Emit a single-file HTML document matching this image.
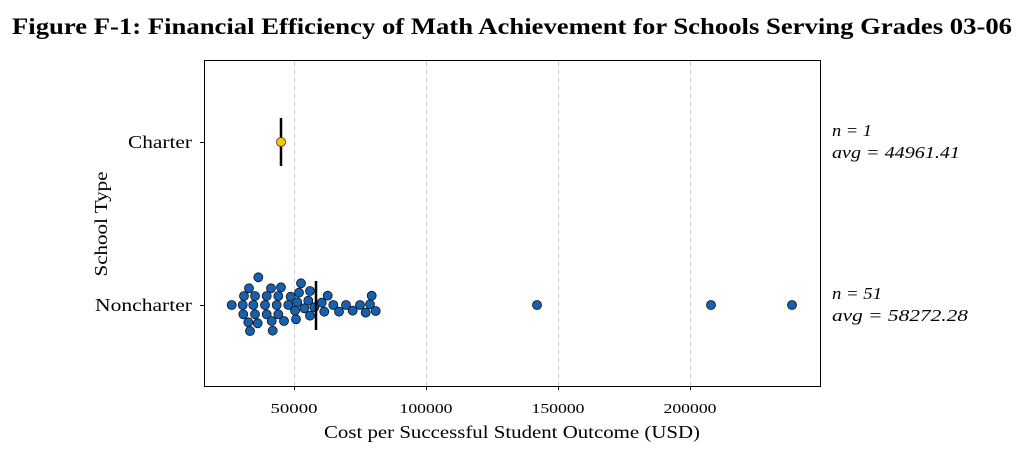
<!DOCTYPE html>
<html><head><style>body{margin:0;background:#fff}svg{display:block}</style></head>
<body>
<svg width="1024" height="451" xmlns="http://www.w3.org/2000/svg" font-family="Liberation Serif, serif">
<text x="512" y="34" text-anchor="middle" font-size="23" font-weight="bold" textLength="1000" lengthAdjust="spacingAndGlyphs">Figure F-1: Financial Efficiency of Math Achievement for Schools Serving Grades 03-06</text>
<g stroke="#d0d0d0" stroke-dasharray="5,3" stroke-width="1">
<line x1="294.5" y1="61" x2="294.5" y2="386"/><line x1="426.5" y1="61" x2="426.5" y2="386"/>
<line x1="558.5" y1="61" x2="558.5" y2="386"/><line x1="690.5" y1="61" x2="690.5" y2="386"/>
</g>
<rect x="204.5" y="60.5" width="616" height="326" fill="none" stroke="#000" stroke-width="1"/>
<g stroke="#000"><line x1="294.5" y1="386" x2="294.5" y2="390"/><line x1="426.5" y1="386" x2="426.5" y2="390"/><line x1="558.5" y1="386" x2="558.5" y2="390"/><line x1="690.5" y1="386" x2="690.5" y2="390"/>
<line x1="200" y1="142.5" x2="204" y2="142.5"/><line x1="200" y1="305.5" x2="204" y2="305.5"/></g>
<g font-size="14" text-anchor="middle"><text x="294" y="413" textLength="47" lengthAdjust="spacingAndGlyphs">50000</text><text x="426" y="413" textLength="53" lengthAdjust="spacingAndGlyphs">100000</text><text x="558" y="413" textLength="53" lengthAdjust="spacingAndGlyphs">150000</text><text x="690" y="413" textLength="53" lengthAdjust="spacingAndGlyphs">200000</text></g>
<text x="512" y="438" text-anchor="middle" font-size="18" textLength="376" lengthAdjust="spacingAndGlyphs">Cost per Successful Student Outcome (USD)</text>
<g font-size="18" text-anchor="end"><text x="192" y="148" textLength="64" lengthAdjust="spacingAndGlyphs">Charter</text><text x="192" y="311" textLength="97" lengthAdjust="spacingAndGlyphs">Noncharter</text></g>
<text transform="translate(107,224) rotate(-90)" text-anchor="middle" font-size="18" textLength="105" lengthAdjust="spacingAndGlyphs">School Type</text>
<g font-size="17" font-style="italic"><text x="832" y="136" textLength="40" lengthAdjust="spacingAndGlyphs">n = 1</text><text x="832" y="158" textLength="128" lengthAdjust="spacingAndGlyphs">avg = 44961.41</text>
<text x="832" y="299" textLength="50" lengthAdjust="spacingAndGlyphs">n = 51</text><text x="832" y="321" textLength="136" lengthAdjust="spacingAndGlyphs">avg = 58272.28</text></g>
<line x1="281" y1="118" x2="281" y2="166" stroke="#000" stroke-width="2.5"/>
<circle cx="281" cy="142" r="4.5" fill="#ffc400" stroke="#333" stroke-width="0.8"/>
<g fill="#1560b0" stroke="#111" stroke-width="0.8">
<circle cx="258.3" cy="277.3" r="4.5"/><circle cx="301" cy="283.3" r="4.5"/><circle cx="249" cy="288.3" r="4.5"/><circle cx="271" cy="288.3" r="4.5"/><circle cx="281" cy="287.3" r="4.5"/><circle cx="310" cy="291" r="4.5"/>
<circle cx="244" cy="296" r="4.5"/><circle cx="255" cy="296" r="4.5"/><circle cx="266.7" cy="296" r="4.5"/><circle cx="278.3" cy="296" r="4.5"/><circle cx="290.7" cy="296.7" r="4.5"/><circle cx="299" cy="292.7" r="4.5"/><circle cx="327.7" cy="295.7" r="4.5"/><circle cx="371.7" cy="295.7" r="4.5"/>
<circle cx="231.7" cy="305" r="4.5"/><circle cx="242.7" cy="305" r="4.5"/><circle cx="253.3" cy="305" r="4.5"/><circle cx="265" cy="305" r="4.5"/><circle cx="276.7" cy="305" r="4.5"/><circle cx="288.3" cy="305" r="4.5"/><circle cx="297.3" cy="302.3" r="4.5"/><circle cx="308.3" cy="300.7" r="4.5"/><circle cx="321.7" cy="302.7" r="4.5"/><circle cx="314.3" cy="307.3" r="4.5"/><circle cx="333.3" cy="305" r="4.5"/><circle cx="346" cy="305" r="4.5"/><circle cx="360" cy="305" r="4.5"/><circle cx="370" cy="304.3" r="4.5"/>
<circle cx="304.3" cy="308.3" r="4.5"/><circle cx="295" cy="310.7" r="4.5"/><circle cx="324.3" cy="311.7" r="4.5"/><circle cx="339" cy="311.7" r="4.5"/><circle cx="352.7" cy="310.7" r="4.5"/><circle cx="365.7" cy="312.7" r="4.5"/><circle cx="375.7" cy="311" r="4.5"/>
<circle cx="243.3" cy="314.3" r="4.5"/><circle cx="255" cy="314.3" r="4.5"/><circle cx="266.7" cy="314.3" r="4.5"/><circle cx="278.3" cy="314.3" r="4.5"/><circle cx="310" cy="315.7" r="4.5"/>
<circle cx="248.3" cy="322.3" r="4.5"/><circle cx="257.7" cy="323.3" r="4.5"/><circle cx="271.7" cy="321" r="4.5"/><circle cx="284" cy="321" r="4.5"/><circle cx="296" cy="319.3" r="4.5"/>
<circle cx="250" cy="331" r="4.5"/><circle cx="272.7" cy="330.7" r="4.5"/>
<circle cx="537" cy="305" r="4.5"/><circle cx="711" cy="305" r="4.5"/><circle cx="792" cy="305" r="4.5"/>
</g>
<line x1="316" y1="281" x2="316" y2="330" stroke="#000" stroke-width="2.5"/>
</svg>
</body></html>
